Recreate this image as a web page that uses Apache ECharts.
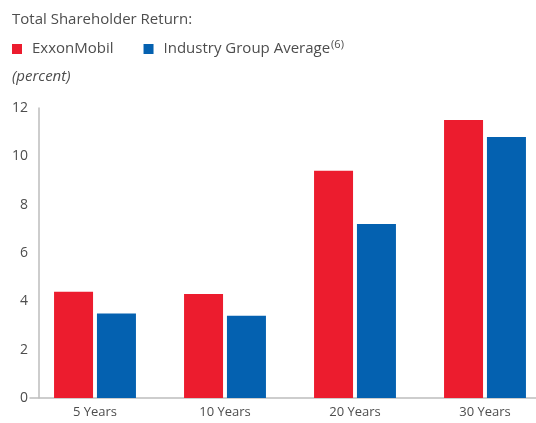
<!DOCTYPE html>
<html>
<head>
    <meta charset="utf-8">
    <title>Total Shareholder Return</title>
    <script type="text/javascript" src="https://cdn.jsdelivr.net/npm/echarts@6/dist/echarts.min.js"></script>
    <style>
        body { margin: 0; background: #fff; }
    </style>
</head>
<body>
	<div id="main" style="height:423px; width:536px;"></div>
	<script type="text/javascript">
	var categories = ['5 Years', '10 Years', '20 Years', '30 Years'];
	var exxon = [4.4, 4.3, 9.4, 11.5];
	var industry = [3.5, 3.4, 7.2, 10.8];
	var yTicks = [0, 2, 4, 6, 8, 10, 12];

	var font = '"Open Sans", sans-serif';
	var textColor = '#4d4d4d';
	var myChart = echarts.init(document.getElementById('main'));
	var option = {
		animation: false,
		textStyle: {fontFamily: font},
		title: [
			{
				text: 'Total Shareholder Return:',
				left: 7, top: 7,
				textStyle: {fontSize: 15, fontWeight: 'normal', color: textColor, fontFamily: font}
			},
			{
				text: '(percent)',
				left: 7, top: 64,
				textStyle: {fontSize: 15, fontWeight: 'normal', fontStyle: 'italic', color: textColor, fontFamily: font}
			}
		],
		legend: {
			left: 7, top: 34,
			icon: 'rect',
			itemWidth: 10, itemHeight: 10,
			itemGap: 30,
			data: ['ExxonMobil', 'Industry Group Average'],
			formatter: function(name) {
				return name === 'Industry Group Average' ? name + '{sup|(6)}' : name;
			},
			textStyle: {
				fontSize: 15, color: textColor, fontFamily: font, padding: [0, 0, 0, 5],
				rich: {sup: {fontSize: 11, color: textColor, verticalAlign: 'top', padding: [0, 0, 9, 1]}}
			}
		},
		grid: {left: 30, right: -14, top: 108, bottom: 25, outerBoundsMode: 'none', containLabel: false},
		xAxis: {
			type: 'category',
			data: categories,
			axisLine: {lineStyle: {color: '#bdbdbd', width: 1.5}},
			axisTick: {show: false},
			axisLabel: {color: textColor, fontSize: 13, margin: 8, fontFamily: font}
		},
		yAxis: {
			type: 'value',
			min: yTicks[0], max: yTicks[yTicks.length - 1], interval: 2,
			offset: -9,
			axisLine: {show: true, lineStyle: {color: '#bdbdbd', width: 1.5}},
			axisTick: {show: false},
			splitLine: {show: false},
			axisLabel: {color: textColor, fontSize: 14, margin: 11, fontFamily: font}
		},
		series: [
			{
				name: 'ExxonMobil',
				type: 'bar',
				data: exxon,
				barWidth: 39,
				barGap: '10%',
				itemStyle: {color: '#ec1c2e'}
			},
			{
				name: 'Industry Group Average',
				type: 'bar',
				data: industry,
				barWidth: 39,
				itemStyle: {color: '#0461b0'}
			}
		]
	};
	myChart.setOption(option);
	</script>
</body>
</html>
